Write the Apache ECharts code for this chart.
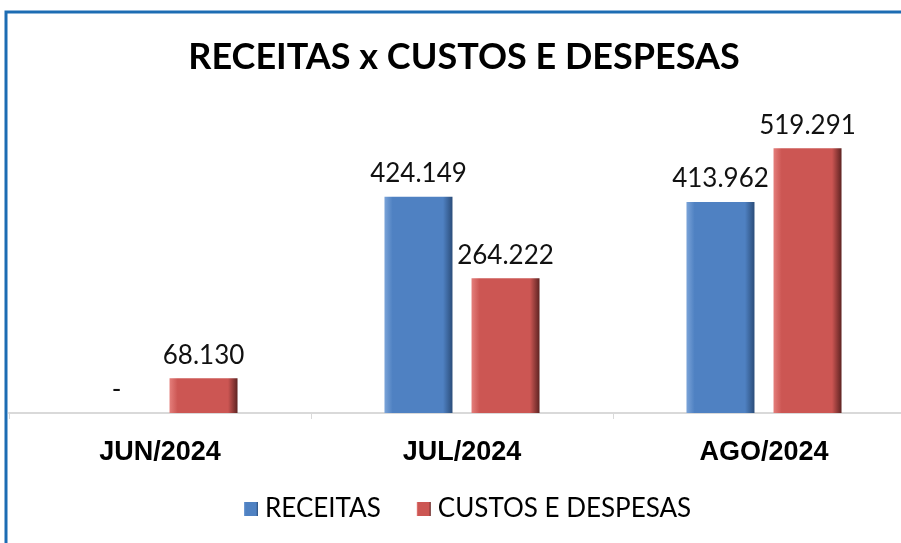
<!DOCTYPE html>
<html>
<head>
<meta charset="utf-8">
<script src="https://cdn.jsdelivr.net/npm/echarts@6/dist/echarts.min.js"></script>
<style>
  html, body { margin: 0; padding: 0; background: #ffffff; }
  #chart { width: 901px; height: 543px; }
</style>
</head>
<body>
<div id="chart"></div>
<script>
// data
var meses = ['JUN/2024', 'JUL/2024', 'AGO/2024'];
var receitas = [0, 424149, 413962];
var custos = [68130, 264222, 519291];
var nomes = ['RECEITAS', 'CUSTOS E DESPESAS'];

function fmt(v) {
  if (!v) return '-';
  return v.toLocaleString('de-DE');
}

// bar fill with a light left edge and a dark right edge (bevel look)
function bevel(light, base, dark) {
  return new echarts.graphic.LinearGradient(0, 0, 1, 0, [
    { offset: 0, color: light },
    { offset: 0.12, color: base },
    { offset: 0.86, color: base },
    { offset: 1, color: dark }
  ]);
}

var chart = echarts.init(document.getElementById('chart'));
var labelStyle = {
  show: true,
  position: 'top',
  distance: 10,
  fontFamily: 'Lato',
  fontSize: 26,
  color: '#111',
  formatter: function (p) { return fmt(p.value); }
};

chart.setOption({
  animation: false,
  backgroundColor: '#ffffff',
  title: {
    text: 'RECEITAS x CUSTOS E DESPESAS',
    left: 459,
    textAlign: 'center',
    top: 34,
    textStyle: { fontFamily: 'Lato', fontWeight: 'bold', fontSize: 36, color: '#000' }
  },
  legend: {
    data: nomes,
    bottom: 16,
    left: 239,
    itemWidth: 14,
    itemHeight: 14,
    itemGap: 36,
    icon: 'rect',
    textStyle: { fontFamily: 'Lato', fontSize: 26, color: '#000', padding: [0, 0, 0, 2] }
  },
  grid: { left: 9, top: 107, bottom: 130, width: 906, outerBoundsMode: 'none', containLabel: false },
  xAxis: {
    type: 'category',
    data: meses,
    axisLine: { lineStyle: { color: '#d9d9d9', width: 2 } },
    axisTick: { show: true, length: 6, lineStyle: { color: '#d9d9d9' } },
    axisLabel: {
      margin: 26,
      fontFamily: 'Liberation Sans',
      fontWeight: 'bold',
      fontSize: 27,
      color: '#000'
    }
  },
  yAxis: {
    type: 'value',
    min: 0,
    max: 600000,
    show: false,
    splitLine: { show: false }
  },
  graphic: [{
    type: 'polyline',
    shape: { points: [[6, 543], [6, 12], [901, 12]] },
    style: { stroke: '#1c6cb3', lineWidth: 3, fill: null }
  }],
  series: [
    {
      name: nomes[0],
      type: 'bar',
      data: receitas,
      barWidth: 68,
      barGap: '28%',
      itemStyle: {
        color: bevel('#7aa3d8', '#4f81c2', '#2b4d7a')
      },
      label: labelStyle
    },
    {
      name: nomes[1],
      type: 'bar',
      data: custos,
      barWidth: 68,
      itemStyle: {
        color: bevel('#e47e7b', '#cc5653', '#5e2322')
      },
      label: labelStyle
    }
  ]
});
</script>
</body>
</html>
